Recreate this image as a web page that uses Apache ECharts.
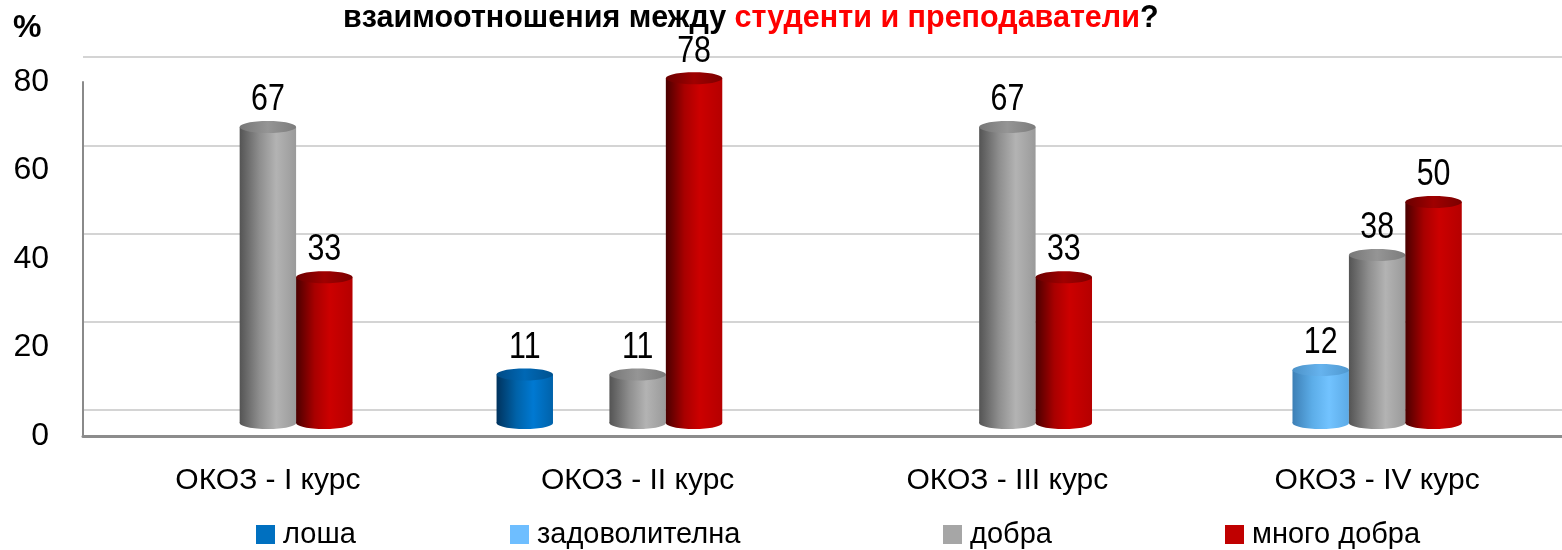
<!DOCTYPE html>
<html><head><meta charset="utf-8">
<script src="https://cdn.jsdelivr.net/npm/echarts@6/dist/echarts.min.js"></script>
<style>html,body{margin:0;padding:0;background:#fff}#c{width:1562px;height:550px}</style>
</head><body><div id="c"></div>
<script>
// ---- data ----
const categories = ['ОКОЗ - I курс', 'ОКОЗ - II курс', 'ОКОЗ - III курс', 'ОКОЗ - IV курс'];
const seriesNames = ['лоша', 'задоволителна', 'добра', 'много добра'];
const losha = [null, 11, null, null];
const zadovolitelna = [null, null, null, 12];
const dobra = [67, 11, 67, 38];
const mnogoDobra = [33, 78, 33, 50];
const yMin = 0, yMax = 80, yStep = 20;

// ---- styles ----
const SANS = "'Liberation Sans', Arial, sans-serif";
const legendColors = ['#0070C0', '#6EBEFF', '#A6A6A6', '#C00000'];
const bodyStops = [
  [[0, '#00335e'], [0.35, '#0062a8'], [0.65, '#0079d2'], [1, '#0062aa']],
  [[0, '#3d7fb5'], [0.35, '#5cade8'], [0.65, '#72c3ff'], [1, '#5caae6']],
  [[0, '#545454'], [0.35, '#8e8e8e'], [0.65, '#b3b3b3'], [1, '#9a9a9a']],
  [[0, '#4a0000'], [0.33, '#a80000'], [0.6, '#cc0000'], [1, '#b50000']]
];
const capStops = [
  [[0, '#004a85'], [0.5, '#0068b5'], [1, '#00528f']],
  [[0, '#4c92c8'], [0.5, '#66b3ee'], [1, '#4f98d0']],
  [[0, '#777777'], [0.5, '#959595'], [1, '#7c7c7c']],
  [[0, '#6a0000'], [0.5, '#a00000'], [1, '#7a0000']]
];
const SLOT = 57 / 373.5;

function grad(stops) {
  return new echarts.graphic.LinearGradient(0, 0, 1, 0, stops.map(s => ({offset: s[0], color: s[1]})));
}

function makeRender(si) {
  return function (params, api) {
    const v = api.value(1);
    if (v == null || isNaN(v)) return;
    const base = api.coord([api.value(0), 0]);
    const top = api.coord([api.value(0), v]);
    const catW = api.size([1, 0])[0];
    const slot = catW * SLOT;
    const cx = base[0] + (si - 2) * slot;
    const rx = slot / 2, ry = 6;
    return {
      type: 'group',
      children: [
        {type: 'ellipse', shape: {cx: cx, cy: base[1], rx: rx, ry: ry}, style: {fill: grad(bodyStops[si])}},
        {type: 'rect', shape: {x: cx - rx, y: top[1], width: rx * 2, height: base[1] - top[1]}, style: {fill: grad(bodyStops[si])}},
        {type: 'ellipse', shape: {cx: cx, cy: top[1], rx: rx, ry: ry}, style: {fill: grad(capStops[si])}},
        {type: 'text', x: cx, y: top[1] - 27, scaleX: 0.82, scaleY: 1,
          style: {text: String(v), x: 0, y: 0, align: 'center', verticalAlign: 'middle',
            fontSize: 37, fontFamily: SANS, fill: '#000'}}
      ]
    };
  };
}

const seriesData = [losha, zadovolitelna, dobra, mnogoDobra];
const legendLefts = [251, 505, 938, 1220];

const chart = echarts.init(document.getElementById('c'), null, {renderer: 'canvas'});
chart.setOption({
  animation: false,
  backgroundColor: '#fff',
  title: {
    text: '{a|взаимоотношения между }{b|студенти и преподаватели}{a|?}',
    left: 343, top: 3, padding: 0,
    textStyle: {
      rich: {
        a: {fontSize: 30.5, fontWeight: 'bold', color: '#000', fontFamily: SANS},
        b: {fontSize: 30.5, fontWeight: 'bold', color: '#ff0000', fontFamily: SANS}
      }
    }
  },
  graphic: [{type: 'text', left: 13, top: 12, style: {text: '%', fontSize: 32, fontWeight: 'bold', fontFamily: SANS, fill: '#000'}}],
  legend: seriesNames.map((n, i) => ({
    data: [{name: n, icon: 'rect'}],
    left: legendLefts[i], top: 515,
    itemWidth: 19, itemHeight: 19,
    textStyle: {fontSize: 29, fontFamily: SANS, color: '#000', padding: [0, 0, 0, 3]},
    selectedMode: false
  })),
  grid: [
    {left: 83, right: 0, top: 57, height: 353},
    {left: 83, width: 1494, top: 69.5, height: 353.5},
    {left: 83, width: 1494, top: 82, height: 354}
  ],
  xAxis: [
    {gridIndex: 0, type: 'category', data: categories, show: false},
    {gridIndex: 1, type: 'category', data: categories, show: false},
    {gridIndex: 2, type: 'category', data: categories,
      axisLine: {show: true, lineStyle: {color: '#8c8c8c', width: 3}},
      axisTick: {show: false},
      axisLabel: {fontSize: 30, fontFamily: SANS, color: '#000', margin: 30}}
  ],
  yAxis: [
    {gridIndex: 0, type: 'value', min: yMin, max: yMax, interval: yStep,
      axisLine: {show: false}, axisTick: {show: false}, axisLabel: {show: false},
      splitLine: {show: true, lineStyle: {color: '#d4d4d4', width: 2}}},
    {gridIndex: 1, type: 'value', min: yMin, max: yMax, interval: yStep, show: false, splitLine: {show: false}},
    {gridIndex: 2, type: 'value', min: yMin, max: yMax, interval: yStep,
      axisLine: {show: true, lineStyle: {color: '#8a8a8a', width: 2}},
      axisTick: {show: false},
      splitLine: {show: false},
      axisLabel: {fontSize: 32, fontFamily: SANS, color: '#000', margin: 34}}
  ],
  series: seriesData.map((arr, si) => ({
    name: seriesNames[si],
    type: 'custom',
    xAxisIndex: 1, yAxisIndex: 1,
    itemStyle: {color: legendColors[si]},
    encode: {x: 0, y: 1},
    data: arr.map((v, i) => [i, v]),
    renderItem: makeRender(si)
  }))
});
</script>
</body></html>
